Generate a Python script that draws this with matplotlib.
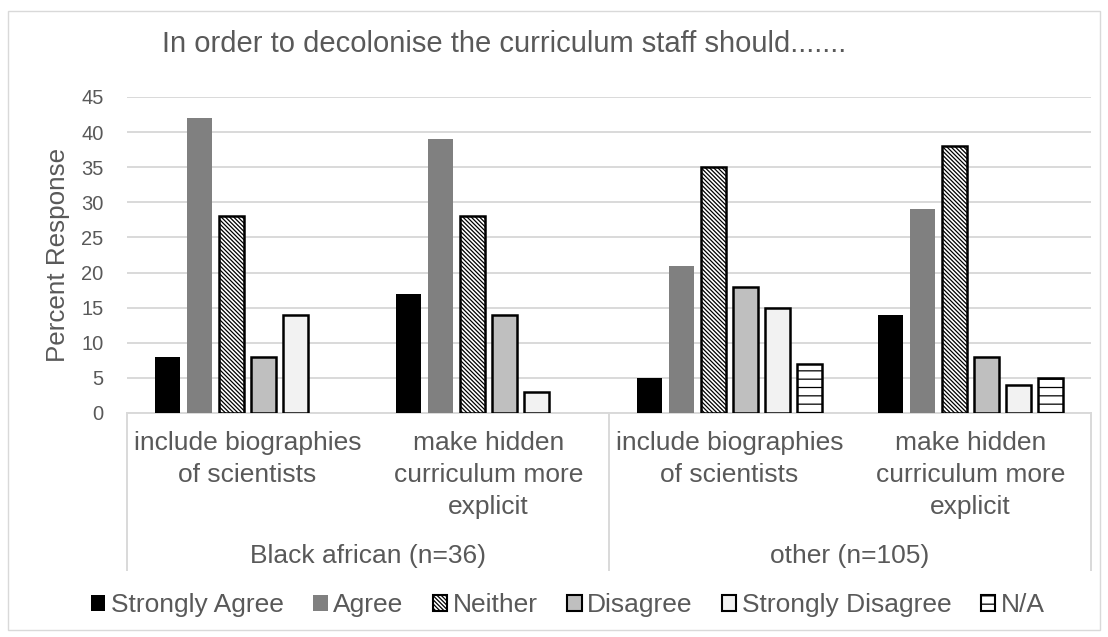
import matplotlib
matplotlib.use("Agg")
import matplotlib.pyplot as plt
import matplotlib.patches as mpatches
import numpy as np

plt.rcParams['font.family'] = ['Liberation Sans', 'DejaVu Sans']
plt.rcParams['hatch.linewidth'] = 0.9

title = "In order to decolonise the curriculum staff should......."
groups = ["Black african (n=36)", "other (n=105)"]
subcats = ["include biographies\nof scientists", "make hidden\ncurriculum more\nexplicit"]
series = ["Strongly Agree", "Agree", "Neither", "Disagree", "Strongly Disagree", "N/A"]

strongly_agree = [8, 17, 5, 14]
agree = [42, 39, 21, 29]
neither = [28, 28, 35, 38]
disagree = [8, 14, 18, 8]
strongly_disagree = [14, 3, 15, 4]
na = [0, 0, 7, 5]
values = [strongly_agree, agree, neither, disagree, strongly_disagree, na]

face = ["#000000", "#808080", "#ffffff", "#bfbfbf", "#f2f2f2", "#ffffff"]
edge = ["#000000", "#808080", "#000000", "#000000", "#000000", "#000000"]
hatches = [None, None, "\\" * 8, None, None, "--"]
lws = [0, 0, 1.8, 1.8, 1.8, 1.8]

W, H = 1108, 637
fig = plt.figure(figsize=(W / 100, H / 100), dpi=100)
ax = fig.add_axes([127 / W, 1 - 413 / H, (1091 - 127) / W, (413 - 97) / H])

txt = "#595959"
grid = "#d9d9d9"
n = 4
x = np.arange(n)
pitch = 0.133
bw = 0.104
for i, (vals, fc, ec, h, lw) in enumerate(zip(values, face, edge, hatches, lws)):
    off = (i - 2.5) * pitch
    bars = ax.bar(x + off, vals, width=bw, color=fc, edgecolor=ec, hatch=h,
                  linewidth=lw, label=series[i], zorder=3)
    for b, v in zip(bars, vals):
        if v == 0:
            b.set_linewidth(0)
            b.set_hatch(None)

ax.set_xlim(-0.5, n - 0.5)
ax.set_ylim(0, 45)
ax.set_yticks(range(0, 46, 5))
ax.yaxis.grid(True, color=grid, linewidth=1.4, zorder=0)
ax.set_axisbelow(True)
for s in ["top", "right", "left"]:
    ax.spines[s].set_visible(False)
ax.spines["bottom"].set_color(grid)
ax.spines["bottom"].set_linewidth(1.4)
ax.tick_params(axis="y", length=0, labelsize=14.5, labelcolor=txt, pad=17)
ax.tick_params(axis="x", length=0)
ax.set_xticks([])
fig.text(58 / W, 1 - 255 / H, "Percent Response", rotation=90, ha="center", va="center",
         fontsize=18.7, color=txt)

# multi-level category axis
tr = ax.get_xaxis_transform()
for k in range(n):
    ax.text(x[k], -0.058, subcats[k % 2], transform=tr, ha="center", va="top",
            fontsize=19, color=txt, linespacing=1.4)
for g in range(2):
    ax.text(g * 2 + 0.5, -0.453, groups[g], transform=tr, ha="center", va="center",
            fontsize=19, color=txt)
for xb in [-0.5, 1.5, 3.5]:
    ax.plot([xb, xb], [0, -0.497], transform=tr, color=grid, linewidth=1.4,
            clip_on=False, zorder=1)

fig.text(162 / W, 1 - 44 / H, title, ha="left", va="center", fontsize=21, color=txt)

handles = [mpatches.Patch(facecolor=face[i], edgecolor="#000000" if i != 1 else "#808080",
                          hatch=hatches[i], linewidth=1.5 if i >= 2 else 0)
           for i in range(6)]
leg = fig.legend(handles, series, loc="center", bbox_to_anchor=(568 / W, 1 - 605 / H),
                 ncol=6, frameon=False, fontsize=19, handlelength=0.55, handleheight=0.55,
                 handletextpad=0.22, columnspacing=1.1, labelcolor=txt,
                 borderpad=0, borderaxespad=0)

fig.add_artist(mpatches.Rectangle((8 / W, 1 - 630 / H), (1100 - 8) / W, (630 - 11) / H,
                                  transform=fig.transFigure, fill=False,
                                  edgecolor=grid, linewidth=1.0))

fig.savefig("out.png", dpi=100)
